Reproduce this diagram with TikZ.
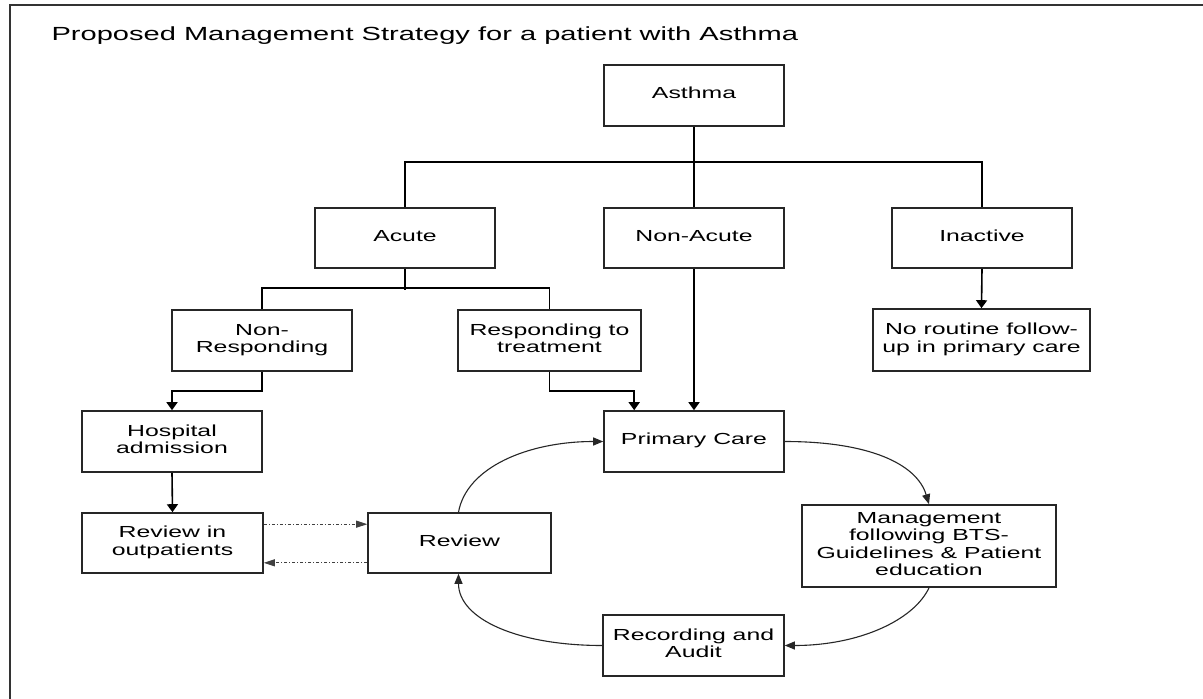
\documentclass[tikz,border=0pt]{standalone}
\usepackage{graphicx}
\usepackage{fontspec}
\setmainfont{Liberation Sans}
\usetikzlibrary{arrows.meta}
\newcommand{\bx}[1]{\fontsize{16}{17.2}\selectfont\scalebox{1.55}[1]{\begin{tabular}{@{}c@{}}#1\end{tabular}}}
\newcommand{\ttl}[1]{\fontsize{19}{22}\selectfont\scalebox{1.53}[1]{#1}}
\tikzset{
  box/.style={draw=black!85, line width=1.6pt, inner sep=0pt, minimum width=180pt, minimum height=61pt, fill=white},
  conn/.style={line width=1.6pt, black},
  tip/.style={conn, -{Triangle[width=11pt,length=8pt]}},
  cur/.style={line width=1.1pt, black!85, -{Triangle[width=8pt,length=10pt]}},
  dot/.style={line width=1pt, black!75, dash pattern=on 3pt off 2pt on 1pt off 2pt, -{Triangle[width=7pt,length=11pt]}}
}
\begin{document}
\begin{tikzpicture}[x=1pt,y=-1pt]
\useasboundingbox (0,0) rectangle (1203,699);
\fill[white] (0,0) rectangle (1203,699);
\draw[line width=2pt, black!80] (9.5,720) -- (9.5,5) -- (1220,5);
\node[anchor=base west] (title) at (48,40) {\ttl{Proposed Management Strategy for a patient with Asthma}};

\node[box] (asthma) at (694,95.5) {\bx{Asthma}};
\node[box, minimum height=60pt] (acute) at (405,238) {\bx{Acute}};
\node[box, minimum height=60pt] (nonacute) at (694,238) {\bx{Non-Acute}};
\node[box, minimum height=60pt] (inactive) at (982,238) {\bx{Inactive}};
\node[box] (nonresp) at (262,340.5) {\bx{Non-\\Responding}};
\node[box, minimum width=183pt] (resp) at (549.5,340.5) {\bx{Responding to\\treatment}};
\node[box, minimum width=217pt, minimum height=62pt] (noroutine) at (981.5,340) {\bx{No routine follow-\\up in primary care}};
\node[box] (hosp) at (172,441.5) {\bx{Hospital\\admission}};
\node[box] (pc) at (694,441.5) {\bx{Primary Care}};
\node[box, minimum width=181pt, minimum height=60pt] (outp) at (172.5,543) {\bx{Review in\\outpatients}};
\node[box, minimum width=183pt, minimum height=60pt] (review) at (459.5,543) {\bx{Review}};
\node[box, minimum width=254pt, minimum height=82pt] (mgmt) at (929,546) {\bx{Management\\following BTS-\\Guidelines \& Patient\\education}};
\node[box, minimum width=181pt] (rec) at (693.5,645.5) {\bx{Recording and\\Audit}};

% tree
\draw[conn] (asthma.south) -- (nonacute.north);
\draw[conn] (acute.north) -- ++(0,-45) -| (inactive.north);
\draw[conn] (acute.south) -- ++(0,21);
\draw[conn] (nonresp.north) -- ++(0,-21) -| (resp.north);
\draw[tip] (nonresp.south) -- ++(0,19) -| (hosp.north);
\draw[tip] (resp.south) -- ++(0,19) -| ([xshift=31pt]pc.north west);
\draw[tip] (nonacute.south) -- (pc.north);
\draw[tip] (inactive.south) -- (noroutine.north);
\draw[tip] (hosp.south) -- (outp.north);

% dotted
\draw[dot] ([yshift=-12pt]outp.north east) -- ([yshift=-12pt]review.north west);
\draw[dot] ([yshift=11pt]review.south west) -- ([yshift=11pt]outp.south east);

% cycle
\draw[cur] ([xshift=-1pt]review.north) .. controls +(8,-45) and +(-75,0) .. (pc.west);
\draw[cur] (pc.east) .. controls +(85,0) and +(-12,-40) .. (mgmt.north);
\draw[cur] (mgmt.south) .. controls +(-15,32) and +(75,0) .. (rec.east);
\draw[cur] (rec.west) .. controls +(-85,0) and +(0,45) .. ([xshift=-1pt]review.south);
\end{tikzpicture}
\end{document}
